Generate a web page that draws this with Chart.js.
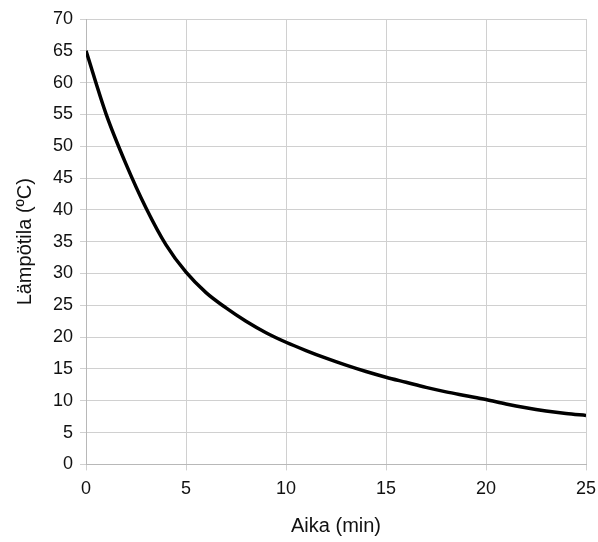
<!DOCTYPE html>
<html>
<head>
<meta charset="utf-8">
<script src="https://cdn.jsdelivr.net/npm/chart.js@4"></script>
<style>
  html, body { margin: 0; padding: 0; background: #fff; }
  #wrap { width: 598px; height: 542px; }
</style>
</head>
<body>
<div id="wrap"><canvas id="chart"></canvas></div>
<script>
// aika (min) ja lämpötila (°C)
const times = [0, 1, 2, 3, 4, 5, 6, 7, 8, 9, 10, 11, 12, 13, 14, 15, 16, 17, 18, 19, 20, 21, 22, 23, 24, 25];
const temps = [65, 55.1, 47.2, 40.3, 34.5, 30.2, 27.0, 24.6, 22.5, 20.7, 19.2, 17.9, 16.7, 15.6, 14.6, 13.7, 12.9, 12.1, 11.4, 10.8, 10.2, 9.5, 8.9, 8.4, 8.0, 7.7];

const ctx = document.getElementById('chart');

new Chart(ctx, {
  type: 'scatter',
  data: {
    datasets: [{
      data: times.map((t, i) => ({ x: t, y: temps[i] })),
      showLine: true,
      borderColor: '#000',
      borderWidth: 3.5,
      pointRadius: 0,
      cubicInterpolationMode: 'monotone'
    }]
  },
  options: {
    responsive: true,
    maintainAspectRatio: false,
    animation: false,
    layout: { padding: { top: 19, right: 12, left: 9, bottom: 0 } },
    plugins: {
      legend: { display: false },
      tooltip: { enabled: false }
    },
    scales: {
      x: {
        min: 0, max: 25,
        afterFit: s => { s.paddingRight = 0; },
        ticks: { stepSize: 5, color: '#111', font: { family: 'Liberation Sans', size: 18 }, padding: 8 },
        grid: { color: '#d0d0d0', tickLength: 6, lineWidth: 1 },
        border: { color: '#b8b8b8' },
        title: { display: true, text: 'Aika (min)', color: '#111', font: { family: 'Liberation Sans', size: 20 }, padding: { top: 6 } }
      },
      y: {
        min: 0, max: 70,
        ticks: { stepSize: 5, color: '#111', font: { family: 'Liberation Sans', size: 18 }, padding: 7 },
        grid: { color: '#d0d0d0', tickLength: 6, lineWidth: 1 },
        border: { color: '#b8b8b8' },
        title: { display: true, text: 'Lämpötila (ºC)', color: '#111', font: { family: 'Liberation Sans', size: 20 }, padding: { bottom: 9 } }
      }
    }
  }
});
</script>
</body>
</html>
